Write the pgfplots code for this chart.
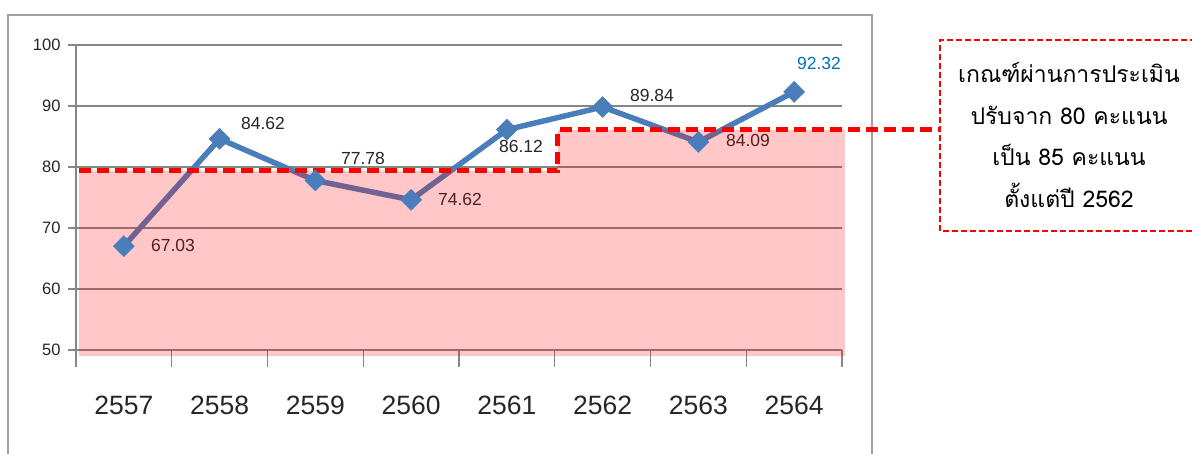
\documentclass[border=0pt]{standalone}
\usepackage{fontspec}
\setmainfont{Liberation Sans}
\newfontfamily\thaifont[Script=Thai]{Loma}
\usepackage{pgfplots}
\pgfplotsset{compat=1.18}
\definecolor{lineblue}{HTML}{4A7EBB}
\definecolor{gridgray}{HTML}{868686}
\definecolor{labblue}{HTML}{0070C0}
\definecolor{framegray}{HTML}{A0A0A0}
\definecolor{txt}{HTML}{262626}
\begin{document}
\begin{tikzpicture}[x=1pt,y=1pt]
\useasboundingbox (0,0) rectangle (1192,453);
\draw[framegray, line width=1.8pt] (8,-5) -- (8,438) -- (872,438) -- (872,-5);
\begin{axis}[
  at={(76pt,103pt)}, anchor=south west,
  width=766pt, height=305pt, scale only axis,
  xmin=0.5, xmax=8.5, ymin=50, ymax=100,
  clip=false,
  axis x line*=bottom, axis y line*=left,
  axis line style={gridgray, line width=1.3pt, -},
  ytick={50,60,...,100},
  ymajorgrids, grid style={gridgray, line width=1.3pt},
  tick align=outside,
  major tick length=8pt,
  minor tick length=17pt,
  tick style={gridgray, line width=1.3pt},
  xtick={1,...,8},
  xticklabels={2557,2558,2559,2560,2561,2562,2563,2564},
  major x tick style={draw=none},
  minor xtick={0.5,1.5,...,8.5},
  /pgf/number format/assume math mode=true,
  yticklabel style={font=\fontsize{16.5}{18}\selectfont, text=txt, xshift=-4pt},
  xticklabel style={font=\fontsize{26.5}{28}\selectfont, text=txt, yshift=-34pt},
]
\addplot[lineblue, line width=5.5pt, mark=square*, mark size=7.4pt,
  mark options={rotate=45, solid, fill=lineblue, draw=lineblue, line width=0.5pt}]
  coordinates {(1,67.03) (2,84.62) (3,77.78) (4,74.62) (5,86.12) (6,89.84) (7,84.09) (8,92.32)};
\node[font=\fontsize{17.5}{19}\selectfont, text=txt] at (axis cs:1.513,67.21) {67.03};
\node[font=\fontsize{17.5}{19}\selectfont, text=txt] at (axis cs:2.453,87.21) {84.62};
\node[font=\fontsize{17.5}{19}\selectfont, text=txt] at (axis cs:3.497,81.40) {77.78};
\node[font=\fontsize{17.5}{19}\selectfont, text=txt] at (axis cs:4.510,74.70) {74.62};
\node[font=\fontsize{17.5}{19}\selectfont, text=txt] at (axis cs:5.148,83.44) {86.12};
\node[font=\fontsize{17.5}{19}\selectfont, text=txt] at (axis cs:6.516,91.80) {89.84};
\node[font=\fontsize{17.5}{19}\selectfont, text=txt] at (axis cs:7.518,84.35) {84.09};
\node[font=\fontsize{17.5}{19}\selectfont, text=labblue] at (axis cs:8.260,97.05) {92.32};
\addplot[draw=none, fill=red, fill opacity=0.22]
  coordinates {(0.53,49) (0.53,79.4) (5.53,79.4) (5.53,86.07) (8.53,86.07) (8.53,49)} -- cycle;
\addplot[red, line width=5pt, dash pattern=on 12pt off 6pt]
  coordinates {(0.53,79.35) (5.53,79.35) (5.53,86.07) (9.52,86.07)};
\end{axis}
\draw[red, line width=2pt, dash pattern=on 6pt off 3pt] (1196,413) -- (940,413) -- (940,222) -- (1196,222);
\node[align=center, font=\thaifont\fontsize{23}{41.5}\selectfont, text=black] at (1069,318) {เกณฑ์ผ่านการประเมิน\\ปรับจาก 80 คะแนน\\เป็น 85 คะแนน\\ตั้งแต่ปี 2562};
\end{tikzpicture}
\end{document}
